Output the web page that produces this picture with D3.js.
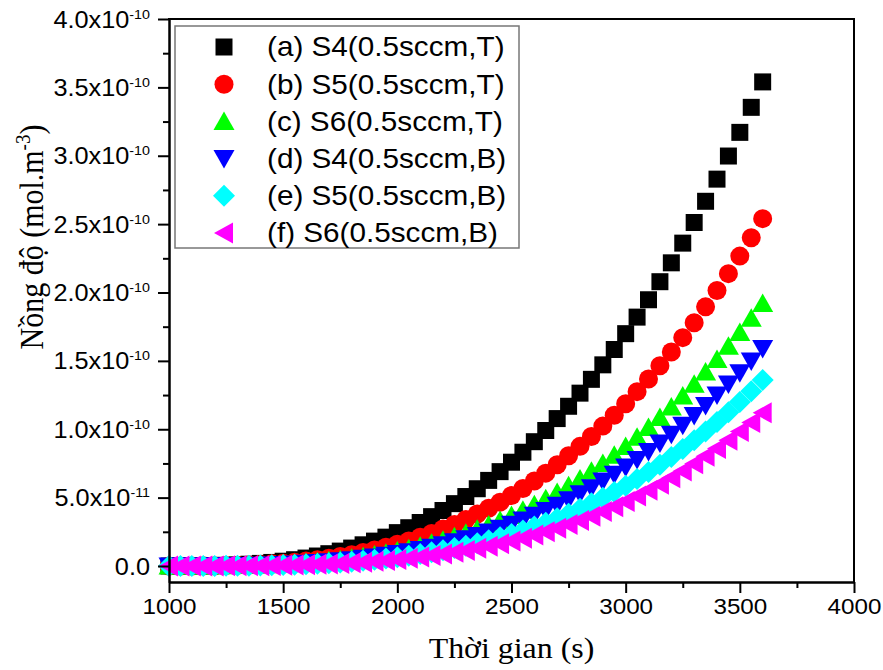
<!DOCTYPE html>
<html>
<head>
<meta charset="utf-8">
<script src="https://cdn.jsdelivr.net/npm/d3@7"></script>
<style>
  body { margin: 0; background: #fff; }
  svg { display: block; }
</style>
</head>
<body>
<svg id="chart" width="883" height="670"></svg>
<script>
// time axis (s)
const times = [1000, 1050, 1100, 1150, 1200, 1250, 1300, 1350, 1400, 1450, 1500, 1550, 1600, 1650, 1700, 1750,
  1800, 1850, 1900, 1950, 2000, 2050, 2100, 2150, 2200, 2250, 2300, 2350, 2400, 2450, 2500, 2550, 2600, 2650,
  2700, 2750, 2800, 2850, 2900, 2950, 3000, 3050, 3100, 3150, 3200, 3250, 3300, 3350, 3400, 3450, 3500, 3550, 3600];

// concentrations, in units of 1e-10 mol.m-3
const s4T = [0, 0.000, 0.000, 0.001, 0.003, 0.005, 0.008, 0.013, 0.019, 0.026, 0.035, 0.046, 0.058, 0.073, 0.090,
  0.109, 0.131, 0.155, 0.182, 0.211, 0.244, 0.280, 0.318, 0.361, 0.406, 0.456, 0.508, 0.565, 0.626, 0.690, 0.759,
  0.832, 0.909, 0.991, 1.078, 1.168, 1.264, 1.365, 1.471, 1.583, 1.699, 1.820, 1.947, 2.079, 2.217, 2.361, 2.512,
  2.667, 2.829, 2.998, 3.171, 3.354, 3.540];
const s5T = [0, 0.000, 0.000, 0.001, 0.002, 0.003, 0.005, 0.008, 0.011, 0.016, 0.021, 0.028, 0.036, 0.046, 0.057,
  0.069, 0.083, 0.099, 0.117, 0.137, 0.159, 0.183, 0.210, 0.238, 0.270, 0.304, 0.340, 0.380, 0.422, 0.467, 0.515,
  0.567, 0.621, 0.679, 0.741, 0.806, 0.875, 0.947, 1.023, 1.103, 1.187, 1.275, 1.368, 1.464, 1.565, 1.670, 1.779,
  1.895, 2.014, 2.138, 2.266, 2.401, 2.540];
const s6T = [0, 0.000, 0.000, 0.000, 0.001, 0.002, 0.003, 0.005, 0.007, 0.010, 0.014, 0.018, 0.024, 0.030, 0.038,
  0.046, 0.056, 0.067, 0.080, 0.094, 0.109, 0.127, 0.145, 0.166, 0.189, 0.213, 0.240, 0.269, 0.300, 0.333, 0.369,
  0.407, 0.447, 0.491, 0.537, 0.586, 0.637, 0.692, 0.749, 0.810, 0.874, 0.941, 1.012, 1.086, 1.163, 1.244, 1.329,
  1.418, 1.510, 1.607, 1.707, 1.811, 1.920];
const s4B = [0, 0.000, 0.000, 0.000, 0.001, 0.001, 0.002, 0.004, 0.006, 0.008, 0.011, 0.015, 0.020, 0.025, 0.031,
  0.038, 0.046, 0.056, 0.066, 0.078, 0.091, 0.105, 0.120, 0.138, 0.156, 0.177, 0.199, 0.223, 0.248, 0.276, 0.305,
  0.337, 0.371, 0.406, 0.445, 0.485, 0.528, 0.573, 0.621, 0.671, 0.724, 0.779, 0.838, 0.899, 0.963, 1.030, 1.101,
  1.174, 1.251, 1.330, 1.414, 1.500, 1.590];
const s5B = [0, 0.000, 0.000, 0.000, 0.000, 0.001, 0.001, 0.002, 0.003, 0.005, 0.007, 0.009, 0.013, 0.016, 0.020,
  0.026, 0.031, 0.038, 0.046, 0.054, 0.064, 0.075, 0.087, 0.100, 0.115, 0.131, 0.148, 0.167, 0.188, 0.210, 0.234,
  0.260, 0.288, 0.317, 0.349, 0.383, 0.419, 0.458, 0.499, 0.542, 0.587, 0.636, 0.687, 0.741, 0.797, 0.856, 0.919,
  0.984, 1.053, 1.125, 1.200, 1.278, 1.360];
const s6B = [0, 0.000, 0.000, 0.000, 0.000, 0.001, 0.001, 0.002, 0.002, 0.003, 0.005, 0.007, 0.009, 0.012, 0.015,
  0.019, 0.023, 0.028, 0.034, 0.040, 0.048, 0.056, 0.066, 0.076, 0.087, 0.100, 0.114, 0.129, 0.145, 0.163, 0.182,
  0.203, 0.226, 0.250, 0.276, 0.303, 0.333, 0.364, 0.398, 0.433, 0.471, 0.511, 0.554, 0.598, 0.645, 0.695, 0.748,
  0.803, 0.860, 0.920, 0.984, 1.050, 1.120];

const seriesNames = ["(a) S4(0.5sccm,T)", "(b) S5(0.5sccm,T)", "(c) S6(0.5sccm,T)",
  "(d) S4(0.5sccm,B)", "(e) S5(0.5sccm,B)", "(f) S6(0.5sccm,B)"];
const seriesValues = [s4T, s5T, s6T, s4B, s5B, s6B];

const xTicks = [1000, 1500, 2000, 2500, 3000, 3500, 4000];
const xMinorTicks = [1250, 1750, 2250, 2750, 3250, 3750];
const yTicks = [0, 0.5, 1.0, 1.5, 2.0, 2.5, 3.0, 3.5, 4.0];
const yMinorTicks = [0.25, 0.75, 1.25, 1.75, 2.25, 2.75, 3.25, 3.75];
const yTickMantissa = ["0.0", "5.0", "1.0", "1.5", "2.0", "2.5", "3.0", "3.5", "4.0"];
const yTickExponent = ["", "-11", "-10", "-10", "-10", "-10", "-10", "-10", "-10"];

// marker shapes and colours
const colors = ["#000000", "#ff0000", "#00ff00", "#0000ff", "#00ffff", "#ff00ff"];
const shapes = [
  () => "M-8.5,-8.5H8.5V8.5H-8.5Z",
  () => d3.arc()({ innerRadius: 0, outerRadius: 9.5, startAngle: 0, endAngle: 2 * Math.PI }),
  () => "M0,-10L10.5,8.5L-10.5,8.5Z",
  () => "M0,10L10.5,-8.5L-10.5,-8.5Z",
  () => "M0,-11L11,0L0,11L-11,0Z",
  () => "M-10,0L9,-10.5L9,10.5Z"
];

const W = 883, H = 670;
const margin = { top: 19, right: 29, bottom: 88, left: 169 };
const svg = d3.select("#chart");
const sans = "'Liberation Sans', Arial, sans-serif";
const serif = "'Liberation Serif', 'Times New Roman', serif";
const SX = 1.1; // the picture is a little wider than tall text

function stretch(sel) {
  sel.each(function () {
    const t = d3.select(this);
    const ax = +t.attr("x") || 0;
    t.attr("transform", `translate(${ax},0) scale(${SX},1) translate(${-ax},0)`);
  });
}

const x = d3.scaleLinear().domain([1000, 4000]).range([margin.left, W - margin.right]);
const y = d3.scaleLinear().domain([-0.117, 4.0]).range([H - margin.bottom, margin.top]);

// points, series after series
seriesValues.forEach((vals, k) => {
  svg.append("g")
    .selectAll("path")
    .data(vals)
    .enter()
    .append("path")
    .attr("d", shapes[k]())
    .attr("transform", (d, i) => `translate(${x(times[i])},${y(d)})`)
    .attr("fill", colors[k]);
});

// x axis
const gx = svg.append("g").attr("transform", `translate(0,${H - margin.bottom})`);
gx.call(d3.axisBottom(x).tickValues(xTicks).tickSize(11).tickSizeOuter(0).tickPadding(5)
  .tickFormat(d3.format("d")));
gx.append("g").call(d3.axisBottom(x).tickValues(xMinorTicks).tickSize(6).tickSizeOuter(0).tickFormat(""));
gx.selectAll("text").attr("font-family", sans).attr("font-size", 22).attr("fill", "#000");
gx.selectAll("text").attr("transform", `scale(${SX},1)`);

// y axis
const gy = svg.append("g").attr("transform", `translate(${margin.left},0)`);
gy.call(d3.axisLeft(y).tickValues(yTicks).tickSize(11).tickSizeOuter(0).tickFormat(""));
gy.append("g").call(d3.axisLeft(y).tickValues(yMinorTicks).tickSize(6).tickSizeOuter(0).tickFormat(""));
gy.selectAll(".tick").filter(d => yTicks.includes(d)).each(function (d) {
  const i = yTicks.indexOf(d);
  const t = d3.select(this).append("text")
    .attr("x", -19)
    .attr("y", 8)
    .attr("text-anchor", "end")
    .attr("font-family", sans)
    .attr("font-size", 23)
    .attr("fill", "#000");
  if (yTickExponent[i]) {
    t.append("tspan").text(yTickMantissa[i] + "x10");
    t.append("tspan").attr("dy", -9).attr("font-size", 13).text(yTickExponent[i]);
  } else {
    t.text(yTickMantissa[i]);
  }
  t.attr("transform", `translate(-19,0) scale(${SX},1) translate(19,0)`);
});

[gx, gy].forEach(g => {
  g.selectAll("path.domain").attr("stroke-width", 2).attr("stroke", "#000");
  g.selectAll("line").attr("stroke-width", 2).attr("stroke", "#000");
});

// frame top and right
svg.append("line").attr("x1", margin.left - 1).attr("x2", W - margin.right + 1)
  .attr("y1", margin.top).attr("y2", margin.top).attr("stroke", "#000").attr("stroke-width", 2);
svg.append("line").attr("x1", W - margin.right).attr("x2", W - margin.right)
  .attr("y1", margin.top).attr("y2", H - margin.bottom).attr("stroke", "#000").attr("stroke-width", 2);

// axis titles
svg.append("text")
  .attr("x", (margin.left + W - margin.right) / 2)
  .attr("y", 658)
  .attr("text-anchor", "middle")
  .attr("font-family", serif)
  .attr("font-size", 29)
  .text("Thời gian (s)")
  .call(stretch);

const yt = svg.append("text")
  .attr("transform", "translate(43,237) rotate(-90) scale(1,1.1)")
  .attr("text-anchor", "middle")
  .attr("font-family", serif)
  .attr("font-size", 30);
yt.append("tspan").text("Nồng độ (mol.m");
yt.append("tspan").attr("dy", -12).attr("font-size", 19).text("-3");
yt.append("tspan").attr("dy", 12).text(")");

// legend
const legend = svg.append("g");
legend.append("rect")
  .attr("x", 175).attr("y", 26).attr("width", 344).attr("height", 222)
  .attr("fill", "#fff").attr("stroke", "#777").attr("stroke-width", 1.5);
seriesNames.forEach((name, k) => {
  const cy = 47 + k * 37.2;
  legend.append("path")
    .attr("d", shapes[k]())
    .attr("transform", `translate(224,${cy})`)
    .attr("fill", colors[k]);
  legend.append("text")
    .attr("x", 267)
    .attr("y", cy + 9.5)
    .attr("font-family", sans)
    .attr("font-size", 27)
    .attr("fill", "#000")
    .text(name)
    .call(stretch);
});
</script>
</body>
</html>
